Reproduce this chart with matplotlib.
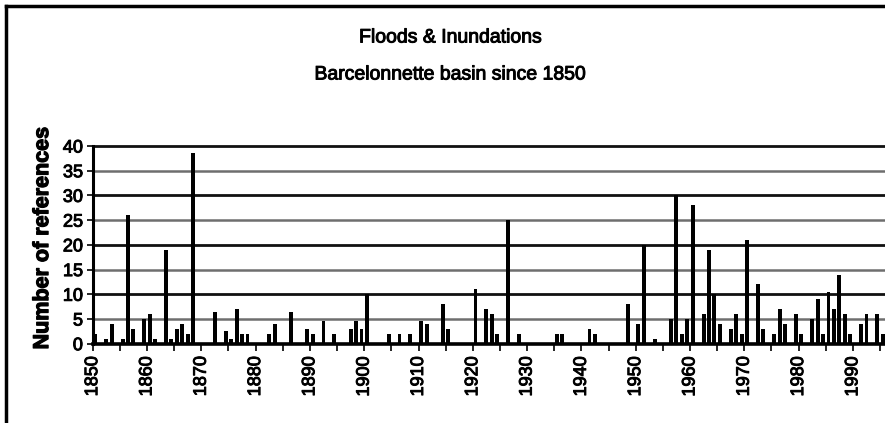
import matplotlib
matplotlib.use("Agg")
import matplotlib.pyplot as plt
from matplotlib import font_manager
from matplotlib.lines import Line2D
import matplotlib.patheffects as pe

# ---- data ----
years = [1850, 1852, 1853, 1855, 1856, 1857, 1859, 1860, 1861, 1863, 1864, 1865,
         1866, 1867, 1868, 1872, 1874, 1875, 1876, 1877, 1878, 1882, 1883, 1886,
         1889, 1890, 1892, 1894, 1897, 1898, 1899, 1900, 1904, 1906, 1908, 1910,
         1911, 1914, 1915, 1920, 1922, 1923, 1924, 1926, 1928, 1935, 1936, 1941,
         1942, 1948, 1950, 1951, 1953, 1956, 1957, 1958, 1959, 1960, 1962, 1963,
         1964, 1965, 1967, 1968, 1969, 1970, 1972, 1973, 1975, 1976, 1977, 1979,
         1980, 1982, 1983, 1984, 1985, 1986, 1987, 1988, 1989, 1991, 1992, 1994,
         1995]
counts = [2, 1, 4, 1, 26, 3, 5, 6, 1, 19, 1, 3,
          4, 2, 38.5, 6.5, 2.5, 1, 7, 2, 2, 2, 4, 6.5,
          3, 2, 4.5, 2, 3, 4.5, 3, 10, 2, 2, 2, 4.5,
          4, 8, 3, 11, 7, 6, 2, 25, 2, 2, 2, 3,
          2, 8, 4, 20, 1, 5, 30, 2, 5, 28, 6, 19,
          10, 4, 3, 6, 2, 21, 12, 3, 2, 7, 4, 6,
          2, 5, 9, 2, 10.5, 7, 14, 6, 2, 4, 6, 6,
          2]
yticks = [0, 5, 10, 15, 20, 25, 30, 35, 40]
xlabels_years = list(range(1850, 1991, 10))
title1 = "Floods & Inundations"
title2 = "Barcelonnette basin since 1850"
ylabel = "Number of references"

# ---- fonts ----
names = {f.name for f in font_manager.fontManager.ttflist}
if "Liberation Sans Narrow" in names:
    FAM = "Liberation Sans Narrow"
    tsz, ksz, lsz = 16.5, 15, 17
else:
    FAM = "Liberation Sans"
    tsz, ksz, lsz = 14, 13, 15.5
plt.rcParams["font.family"] = [FAM, "DejaVu Sans"]

heavy = [pe.withStroke(linewidth=0.7, foreground="black")]

W, H = 885, 423
fig = plt.figure(figsize=(W / 100, H / 100), dpi=100)

x0, x1 = 92.7, 885.0
y0, y40 = 343.7, 146.0
ax = fig.add_axes([x0 / W, (H - y0) / H, (x1 - x0) / W, (y0 - y40) / H])
px_per_year = 5.43
xmax = 1850 + (x1 - x0) / px_per_year

# gridlines: black at multiples of 10, grey at odd fives
for v in yticks[1:]:
    col = "#111111" if v % 10 == 0 else "#6e6e6e"
    ax.axhline(v, color=col, lw=2.0 if v % 10 == 0 else 1.8, zorder=1, clip_on=False)

ax.bar([y + 0.5 for y in years], counts, width=0.72, color="black",
       align="center", zorder=3)

ax.set_xlim(1850, xmax)
ax.set_ylim(0, 40)

for s in ["top", "right"]:
    ax.spines[s].set_visible(False)
ax.spines["left"].set_linewidth(2.2)
ax.spines["bottom"].set_linewidth(2.6)
ax.spines["left"].set_zorder(4)
ax.spines["bottom"].set_zorder(4)

ax.set_yticks(yticks)
ax.set_yticklabels([str(v) for v in yticks], fontsize=ksz)
ax.tick_params(axis="y", direction="out", length=4, width=1.2, pad=3)

xt = list(range(1850, 1996, 5))
ax.set_xticks(xt)
ax.set_xticklabels([str(v) if v in xlabels_years else "" for v in xt],
                   rotation=90, fontsize=ksz)
ax.tick_params(axis="x", direction="out", length=5, width=1.2, pad=4)

for lab in ax.get_xticklabels() + ax.get_yticklabels():
    lab.set_path_effects(heavy)

yl = ax.set_ylabel(ylabel, fontsize=lsz, fontweight="bold")
yl.set_fontweight("bold")
yl.set_path_effects([pe.withStroke(linewidth=0.9, foreground="black")])
ax.yaxis.set_label_coords(-0.05, 0.535)

for ty, txt in [(38, title1), (75, title2)]:
    t = fig.text(451 / W, 1 - ty / H, txt, ha="center", va="center", fontsize=tsz)
    t.set_path_effects(heavy)

# scanned frame: top and left border
fig.add_artist(Line2D([6 / W, 1.0], [1 - 6 / H, 1 - 6 / H], color="black", lw=2.5,
                      transform=fig.transFigure))
fig.add_artist(Line2D([6 / W, 6 / W], [0, 1 - 6 / H], color="black", lw=2.5,
                      transform=fig.transFigure))

fig.savefig("out.png", dpi=100, facecolor="white")
